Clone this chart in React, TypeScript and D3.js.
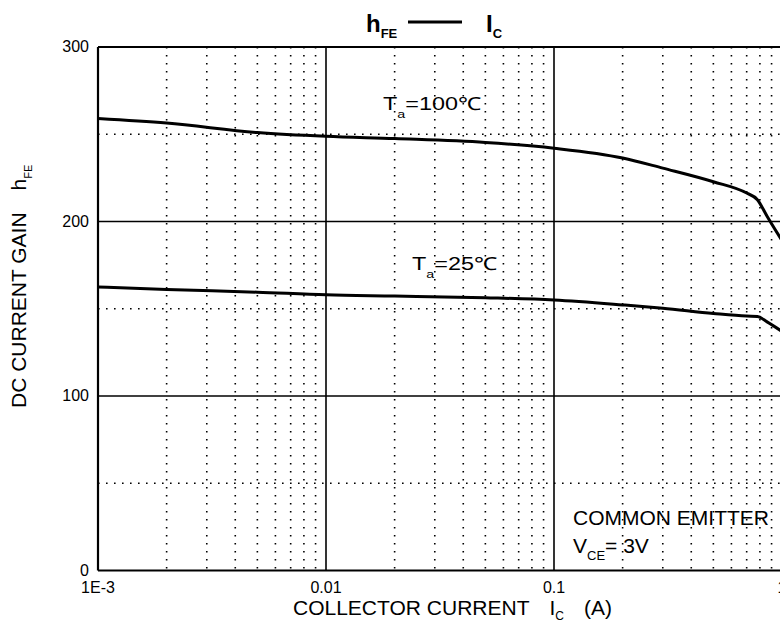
import React, { useEffect, useRef } from "react";
import * as d3 from "d3";

// collector current (A) and DC current gain
const currentA = [0.001, 0.002, 0.005, 0.01, 0.02, 0.05, 0.1, 0.2, 0.3, 0.5, 0.7, 0.78, 0.86, 1];
const gain100C = [259, 256.4, 251, 248.8, 247.5, 245.3, 242, 236.4, 230.6, 222.8, 216.3, 212.5, 203, 189];
const gain25C = [162.5, 161, 159.5, 158, 157.3, 156.3, 155, 152.2, 150.3, 147.3, 145.8, 145.6, 142.5, 137];

const xTickValues = [0.001, 0.01, 0.1, 1];
const xTickLabels = ["1E-3", "0.01", "0.1", "1"];
const yTickValues = [0, 100, 200, 300];
const yDottedValues = [50, 150, 250];

const FONT = "'Liberation Sans', Arial, sans-serif";

const App: React.FC = () => {
  const svgRef = useRef<SVGSVGElement | null>(null);

  useEffect(() => {
    if (!svgRef.current) return;
    const width = 780;
    const height = 624;
    const svg = d3.select(svgRef.current);
    svg.selectAll("*").remove();
    svg.attr("width", width).attr("height", height);

    const left = 98;
    const right = 782;
    const top = 47;
    const bottom = 570.5;

    const x = d3.scaleLog().domain([0.001, 1]).range([left, right]);
    const y = d3.scaleLinear().domain([0, 300]).range([bottom, top]);

    const g = svg.append("g");

    // minor dotted verticals (2..9 in each decade)
    const minors: number[] = [];
    [0.001, 0.01, 0.1].forEach((d) => {
      for (let k = 2; k <= 9; k++) minors.push(d * k);
    });
    g.selectAll("line.minor")
      .data(minors)
      .enter()
      .append("line")
      .attr("x1", (d) => x(d))
      .attr("x2", (d) => x(d))
      .attr("y1", top)
      .attr("y2", bottom)
      .attr("stroke", "#000")
      .attr("stroke-width", 1.6)
      .attr("stroke-dasharray", "1.6,6.4");

    // dotted horizontals
    g.selectAll("line.hdot")
      .data(yDottedValues)
      .enter()
      .append("line")
      .attr("x1", left)
      .attr("x2", right)
      .attr("y1", (d) => y(d))
      .attr("y2", (d) => y(d))
      .attr("stroke", "#000")
      .attr("stroke-width", 1.6)
      .attr("stroke-dasharray", "1.6,6.4");

    // solid grid + frame
    g.selectAll("line.hgrid")
      .data(yTickValues)
      .enter()
      .append("line")
      .attr("x1", left)
      .attr("x2", right)
      .attr("y1", (d) => y(d))
      .attr("y2", (d) => y(d))
      .attr("stroke", "#000")
      .attr("stroke-width", (d) => (d === 0 || d === 300 ? 2.2 : 1.6));

    g.selectAll("line.vgrid")
      .data(xTickValues)
      .enter()
      .append("line")
      .attr("x1", (d) => x(d))
      .attr("x2", (d) => x(d))
      .attr("y1", top)
      .attr("y2", bottom)
      .attr("stroke", "#000")
      .attr("stroke-width", (d) => (d === 0.001 ? 2.2 : 1.6));

    // curves
    const line = d3
      .line<number>()
      .x((_, i) => x(currentA[i]))
      .y((d) => y(d))
      .curve(d3.curveMonotoneX);

    [gain100C, gain25C].forEach((s) => {
      g.append("path")
        .attr("d", line(s))
        .attr("fill", "none")
        .attr("stroke", "#000")
        .attr("stroke-width", 3);
    });

    // tick labels
    g.selectAll("text.ytick")
      .data(yTickValues)
      .enter()
      .append("text")
      .attr("x", 89)
      .attr("y", (d) => y(d) + 5)
      .attr("text-anchor", "end")
      .style("font-family", FONT)
      .style("font-size", "16px")
      .text((d) => String(d));

    g.selectAll("text.xtick")
      .data(xTickValues)
      .enter()
      .append("text")
      .attr("x", (d) => x(d))
      .attr("y", 593)
      .attr("text-anchor", "middle")
      .style("font-family", FONT)
      .style("font-size", "16px")
      .text((_, i) => xTickLabels[i]);

    // text with a subscript: main, sub, rest
    const subText = (
      transform: string,
      main: string,
      sub: string,
      rest: string,
      size: number,
      subSize: number,
      subDy: number,
      restDx = 0,
      bold = false
    ) => {
      const t = g
        .append("text")
        .attr("transform", transform)
        .style("font-family", FONT)
        .style("font-size", `${size}px`)
        .style("font-weight", bold ? "bold" : "normal");
      t.append("tspan").text(main);
      t.append("tspan").attr("dy", subDy).style("font-size", `${subSize}px`).text(sub);
      if (rest) t.append("tspan").attr("dx", restDx).attr("dy", -subDy).text(rest);
      return t;
    };

    // axis titles
    const xt = g
      .append("text")
      .attr("x", 293)
      .attr("y", 615)
      .style("font-family", FONT)
      .style("font-size", "21px");
    xt.append("tspan").text("COLLECTOR CURRENT");
    xt.append("tspan").attr("dx", 20).text("I");
    xt.append("tspan").attr("dy", 5).style("font-size", "12px").text("C");
    xt.append("tspan").attr("dx", 20).attr("dy", -5).text("(A)");

    const yt = g
      .append("text")
      .attr("transform", "translate(26,408) rotate(-90)")
      .style("font-family", FONT)
      .style("font-size", "21px");
    yt.append("tspan").text("DC CURRENT GAIN");
    yt.append("tspan").attr("dx", 22).text("h");
    yt.append("tspan").attr("dy", 6).style("font-size", "11px").text("FE");

    // title
    subText("translate(366,32)", "h", "FE", "", 24, 13, 6, 0, true);
    g.append("line")
      .attr("x1", 408)
      .attr("x2", 462)
      .attr("y1", 22)
      .attr("y2", 22)
      .attr("stroke", "#000")
      .attr("stroke-width", 3);
    subText("translate(486,32)", "I", "C", "", 24, 13, 6, 0, true);

    // curve labels (the source lettering is wide)
    subText("translate(383,110) scale(1.3,1)", "T", "a", "=100℃", 18, 11, 8);
    subText("translate(412,270) scale(1.3,1)", "T", "a", "=25℃", 18, 11, 8);

    // test conditions
    g.append("text")
      .attr("x", 573)
      .attr("y", 525)
      .style("font-family", FONT)
      .style("font-size", "21px")
      .text("COMMON EMITTER");
    subText("translate(573,553)", "V", "CE", "= 3V", 21, 13, 7);
  }, []);

  return (
    <div style={{ position: "absolute", left: 0, top: 0, width: 780, height: 624, background: "#fff" }}>
      <svg ref={svgRef}></svg>
    </div>
  );
};

export default App;
